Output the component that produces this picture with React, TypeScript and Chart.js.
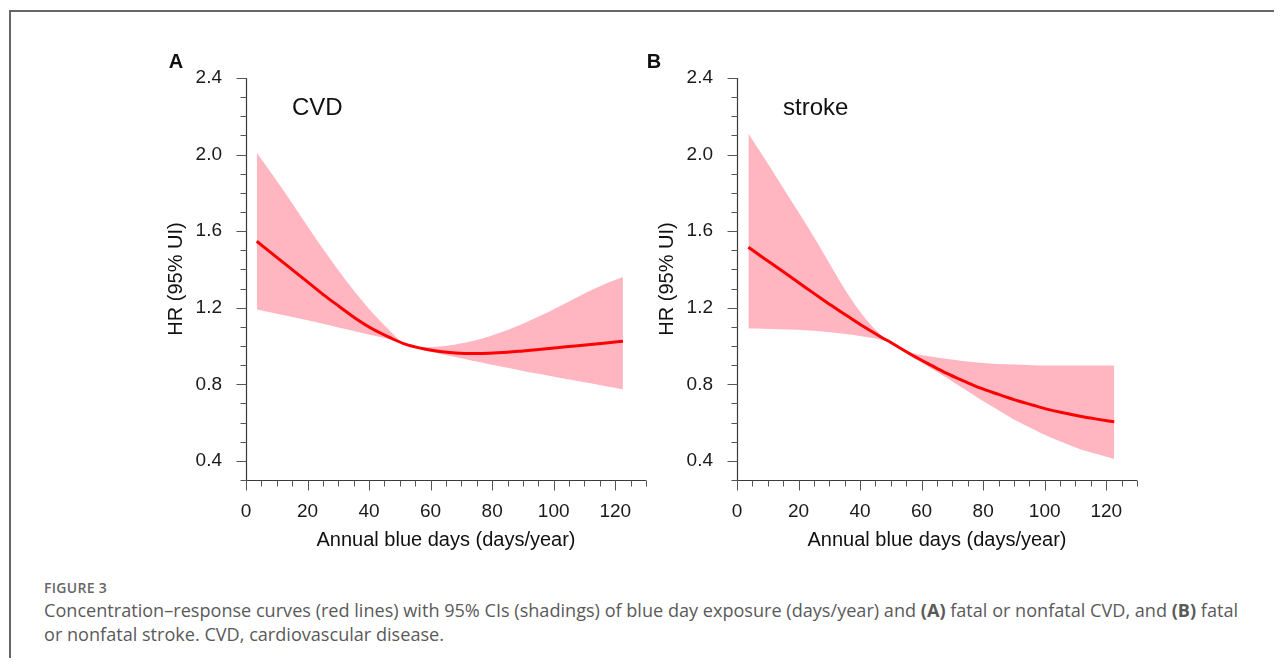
import React, { useEffect, useRef } from 'react';
import { Chart, registerables } from 'chart.js';

Chart.register(...registerables);

// ---------- data ----------
const CVD_X = [3.5, 9, 14, 20, 25, 30, 36, 41, 47, 51, 58, 63, 68, 74, 79, 85, 90, 96, 101, 107, 112, 117, 122.5];
const CVD_HR = [1.547, 1.476, 1.412, 1.335, 1.27, 1.21, 1.14, 1.09, 1.042, 1.014, 0.984, 0.971, 0.964, 0.961, 0.962, 0.967, 0.974, 0.983, 0.991, 1.0, 1.008, 1.016, 1.025];
const CVD_UPPER = [2.009, 1.885, 1.769, 1.626, 1.508, 1.396, 1.27, 1.175, 1.076, 1.018, 0.993, 0.997, 1.008, 1.027, 1.05, 1.083, 1.116, 1.16, 1.2, 1.25, 1.29, 1.327, 1.361];
const CVD_LOWER = [1.191, 1.172, 1.155, 1.135, 1.116, 1.097, 1.075, 1.056, 1.033, 1.012, 0.978, 0.96, 0.942, 0.921, 0.905, 0.886, 0.87, 0.852, 0.837, 0.82, 0.805, 0.79, 0.773];

const STROKE_X = [3.7, 8.6, 14, 19.4, 25, 30.3, 36, 41, 46.5, 50, 57, 63, 68, 74, 79, 85, 90, 96, 101, 106, 111.5, 117, 122.6];
const STROKE_HR = [1.516, 1.46, 1.4, 1.338, 1.275, 1.215, 1.155, 1.103, 1.05, 1.018, 0.952, 0.9, 0.858, 0.815, 0.781, 0.747, 0.72, 0.692, 0.669, 0.651, 0.633, 0.618, 0.604];
const STROKE_UPPER = [2.11, 1.988, 1.852, 1.714, 1.57, 1.425, 1.272, 1.158, 1.062, 1.022, 0.963, 0.945, 0.933, 0.92, 0.912, 0.906, 0.903, 0.9, 0.898, 0.898, 0.898, 0.898, 0.898];
const STROKE_LOWER = [1.091, 1.09, 1.088, 1.085, 1.08, 1.072, 1.062, 1.05, 1.034, 1.016, 0.941, 0.884, 0.836, 0.774, 0.722, 0.664, 0.616, 0.568, 0.528, 0.496, 0.461, 0.436, 0.41];

const X_TICK_VALUES = [0, 5, 10, 15, 20, 25, 30, 35, 40, 45, 50, 55, 60, 65, 70, 75, 80, 85, 90, 95, 100, 105, 110, 115, 120, 125, 130];
const X_TICK_LABELS = [0, 20, 40, 60, 80, 100, 120];
const Y_TICK_VALUES = [0.3, 0.4, 0.5, 0.6, 0.7, 0.8, 0.9, 1.0, 1.1, 1.2, 1.3, 1.4, 1.5, 1.6, 1.7, 1.8, 1.9, 2.0, 2.1, 2.2, 2.3, 2.4];
const Y_TICK_LABELS = [0.4, 0.8, 1.2, 1.6, 2.0, 2.4];

const X_TITLE = 'Annual blue days (days/year)';
const Y_TITLE = 'HR (95% UI)';

const FONT = '"Liberation Sans", Arial, Helvetica, sans-serif';

const isLabeledY = (v: number) => Y_TICK_LABELS.some((t) => Math.abs(t - v) < 1e-6);
const isLabeledX = (v: number) => X_TICK_LABELS.some((t) => Math.abs(t - v) < 1e-6);

const axesPlugin = {
  id: 'customAxes',
  afterDraw(chart: any, _args: any, opts: any) {
    const { ctx, chartArea } = chart;
    const { left, right, top, bottom } = chartArea;
    const xs = chart.scales.x;
    const ys = chart.scales.y;
    ctx.save();
    ctx.strokeStyle = '#3a3a3a';
    ctx.lineWidth = 1.2;
    const L = Math.round(left) + 0.5;
    const B = Math.round(bottom) + 0.5;
    ctx.beginPath();
    ctx.moveTo(L, Math.round(top));
    ctx.lineTo(L, B);
    ctx.moveTo(L, B);
    ctx.lineTo(Math.round(right), B);
    ctx.stroke();
    ctx.lineWidth = 1;
    ctx.strokeStyle = '#555';
    ctx.beginPath();
    for (const v of Y_TICK_VALUES) {
      const py = Math.round(ys.getPixelForValue(v)) + 0.5;
      const len = isLabeledY(v) ? 10 : 6;
      ctx.moveTo(L - len, py);
      ctx.lineTo(L, py);
    }
    for (const v of X_TICK_VALUES) {
      const px = Math.round(xs.getPixelForValue(v)) + 0.5;
      const len = isLabeledX(v) ? 10 : 6;
      ctx.moveTo(px, B);
      ctx.lineTo(px, B + len);
    }
    ctx.stroke();

    ctx.fillStyle = '#111';
    ctx.textBaseline = 'middle';
    ctx.textAlign = 'center';
    ctx.font = `bold 20px ${FONT}`;
    ctx.fillText(opts.letter, opts.letterX, 32);
    ctx.textAlign = 'left';
    ctx.font = `24px ${FONT}`;
    ctx.fillText(opts.name, 162, 78);
    ctx.restore();
  },
};

function Panel({ xs, hr, up, lo, letter, letterX, name, left }: any) {
  const ref = useRef<HTMLCanvasElement | null>(null);
  useEffect(() => {
    if (!ref.current) return;
    const toPts = (ys: number[]) => xs.map((x: number, i: number) => ({ x, y: ys[i] }));
    const chart = new Chart(ref.current, {
      type: 'line',
      data: {
        datasets: [
          {
            label: 'HR',
            data: toPts(hr),
            borderColor: '#ff0000',
            borderWidth: 3,
            pointRadius: 0,
            fill: false,
            cubicInterpolationMode: 'monotone',
          },
          {
            label: 'upper',
            data: toPts(up),
            borderWidth: 0,
            borderColor: 'rgba(0,0,0,0)',
            backgroundColor: '#ffb6c1',
            pointRadius: 0,
            fill: '+1',
            cubicInterpolationMode: 'monotone',
          },
          {
            label: 'lower',
            data: toPts(lo),
            borderWidth: 0,
            borderColor: 'rgba(0,0,0,0)',
            pointRadius: 0,
            fill: false,
            cubicInterpolationMode: 'monotone',
          },
        ],
      },
      options: {
        animation: false,
        responsive: false,
        maintainAspectRatio: false,
        events: [],
        layout: { padding: { left: 0, top: 48, right: 24, bottom: 0 } },
        plugins: {
          legend: { display: false },
          tooltip: { enabled: false },
          customAxes: { letter, letterX, name },
        } as any,
        scales: {
          x: {
            type: 'linear',
            min: 0,
            max: 130,
            afterBuildTicks: (s: any) => {
              s.ticks = X_TICK_VALUES.map((v) => ({ value: v }));
            },
            afterFit: (s: any) => {
              s.height = 90;
            },
            grid: { display: false, drawTicks: false },
            border: { display: false },
            ticks: {
              autoSkip: false,
              maxRotation: 0,
              padding: 20,
              color: '#1a1a1a',
              font: { family: FONT, size: 19 },
              callback: (v: any) => (isLabeledX(Number(v)) ? String(v) : ''),
            },
            title: {
              display: true,
              text: X_TITLE,
              color: '#111',
              font: { family: FONT, size: 20 },
              padding: { top: 0, bottom: 18 },
            },
          },
          y: {
            type: 'linear',
            min: 0.3,
            max: 2.4,
            afterBuildTicks: (s: any) => {
              s.ticks = Y_TICK_VALUES.map((v) => ({ value: v }));
            },
            afterFit: (s: any) => {
              s.width = 116;
            },
            grid: { display: false, drawTicks: false },
            border: { display: false },
            ticks: {
              autoSkip: false,
              padding: 24,
              color: '#1a1a1a',
              font: { family: FONT, size: 19 },
              callback: (v: any) => (isLabeledY(Number(v)) ? Number(v).toFixed(1) : ''),
            },
            title: {
              display: true,
              text: Y_TITLE,
              color: '#111',
              font: { family: FONT, size: 20 },
              padding: { top: 34, bottom: 0 },
            },
          },
        },
      } as any,
      plugins: [axesPlugin],
    });
    return () => chart.destroy();
  }, []);
  return (
    <canvas
      ref={ref}
      width={540}
      height={540}
      style={{ position: 'absolute', left, top: 22, width: 540, height: 540 }}
    />
  );
}

export default function App() {
  const captionStyle: React.CSSProperties = {
    position: 'absolute',
    left: 36,
    fontFamily: '"Open Sans", "Noto Sans", sans-serif',
    fontSize: 18.1,
    color: '#5a5a5a',
    whiteSpace: 'nowrap',
    lineHeight: '24px',
  };
  return (
    <div style={{ position: 'relative', width: 1266, height: 650 }}>
      <div
        style={{
          position: 'absolute',
          left: 1,
          top: 2,
          width: 1273,
          height: 650,
          borderTop: '2px solid #666',
          borderLeft: '2px solid #666',
          boxSizing: 'border-box',
        }}
      />
      <Panel xs={CVD_X} hr={CVD_HR} up={CVD_UPPER} lo={CVD_LOWER} letter="A" letterX={46} name="CVD" left={122} />
      <Panel xs={STROKE_X} hr={STROKE_HR} up={STROKE_UPPER} lo={STROKE_LOWER} letter="B" letterX={33} name="stroke" left={613} />
      <div style={{ ...captionStyle, top: 568, fontSize: 14, fontWeight: 600, color: '#666', letterSpacing: 0.3 }}>FIGURE 3</div>
      <div style={{ ...captionStyle, top: 590 }}>
        Concentration–response curves (red lines) with 95% CIs (shadings) of blue day exposure (days/year) and <b>(A)</b> fatal or nonfatal CVD, and <b>(B)</b> fatal
      </div>
      <div style={{ ...captionStyle, top: 614 }}>or nonfatal stroke. CVD, cardiovascular disease.</div>
    </div>
  );
}
